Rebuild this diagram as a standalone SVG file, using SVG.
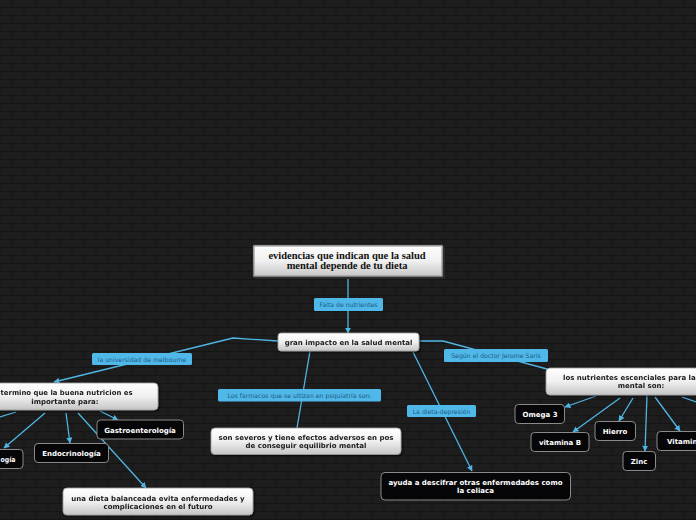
<svg xmlns="http://www.w3.org/2000/svg" width="696" height="520" viewBox="0 0 696 520">
<defs>
<pattern id="brick" width="24" height="16" patternUnits="userSpaceOnUse">
<rect width="24" height="16" fill="#1d1d1d"/>
<path d="M0 7.5H24M0 15.5H24M12 0V7.5M0 8V16M24 8V16" stroke="#151515" stroke-width="1"/>
</pattern>
<linearGradient id="wg" x1="0" y1="0" x2="0" y2="1">
<stop offset="0" stop-color="#ffffff"/>
<stop offset="0.5" stop-color="#f0f0f0"/>
<stop offset="1" stop-color="#c4c4c4"/>
</linearGradient>
<marker id="arr" viewBox="0 0 10 10" refX="9" refY="5" markerWidth="6" markerHeight="6" orient="auto" markerUnits="userSpaceOnUse">
<path d="M0 0L10 5L0 10z" fill="#4fb5e3"/>
</marker>
<filter id="sh" x="-10%" y="-20%" width="130%" height="160%">
<feDropShadow dx="1" dy="1" stdDeviation="1" flood-color="#000" flood-opacity="0.8"/>
</filter>
</defs>
<style>
.c{fill:none;stroke:#4fb5e3;stroke-width:1.3}
.lb{fill:#4fb8e8}
.lt{font-family:"DejaVu Sans",sans-serif;font-size:6.2px;fill:#1f5a86}
.wn{fill:url(#wg);stroke:#9a9a9a;stroke-width:0.8}
.bn{fill:#060609;stroke:#8a8a8a;stroke-width:1}
.t{font-family:"DejaVu Sans",sans-serif;font-size:7px;font-weight:bold;text-anchor:middle}
.tk{fill:#1a1a1a}
.tw{fill:#ffffff}
.rt{font-family:"Liberation Serif",serif;font-size:10.5px;font-weight:bold;text-anchor:middle;fill:#111}
</style>
<rect width="696" height="520" fill="url(#brick)"/>

<g id="connectors">
<path class="c" d="M348 277V333" marker-end="url(#arr)"/>
<path class="c" d="M278 341L233 338L54 382" marker-end="url(#arr)"/>
<path class="c" d="M310 351L297 428"/>
<path class="c" d="M413 352L472 471" marker-end="url(#arr)"/>
<path class="c" d="M419 341L443 341L547 369"/>
<path class="c" d="M100 411L118 420" marker-end="url(#arr)"/>
<path class="c" d="M66 413L70 443" marker-end="url(#arr)"/>
<path class="c" d="M45 413L4 448" marker-end="url(#arr)"/>
<path class="c" d="M16 412L0 417"/>
<path class="c" d="M78 413L146 488" marker-end="url(#arr)"/>
<path class="c" d="M596 396L565 407" marker-end="url(#arr)"/>
<path class="c" d="M620 398L573 432" marker-end="url(#arr)"/>
<path class="c" d="M633 398L619 421" marker-end="url(#arr)"/>
<path class="c" d="M647 395L645 451" marker-end="url(#arr)"/>
<path class="c" d="M655 397L680 431" marker-end="url(#arr)"/>
<path class="c" d="M682 397L696 402"/>
<g id="labels">
<rect class="lb" x="314" y="298" width="69" height="13" rx="1.5"/>
<text class="lt" x="348.5" y="307" text-anchor="middle">Falta de nutrientes</text>
<rect class="lb" x="92" y="353" width="100" height="12" rx="1.5"/>
<text class="lt" x="142" y="361.5" text-anchor="middle">la universidad de melbourne</text>
<rect class="lb" x="218" y="389" width="163" height="12.5" rx="1.5"/>
<text class="lt" x="299.5" y="397.8" text-anchor="middle">Los farmacos que se ultizan en psquiatria son:</text>
<rect class="lb" x="407" y="405" width="69" height="12" rx="1.5"/>
<text class="lt" x="441.5" y="413.5" text-anchor="middle">La dieta-depresión</text>
<rect class="lb" x="444" y="349" width="104" height="13" rx="1.5"/>
<text class="lt" x="496" y="358" text-anchor="middle">Según el doctor Jerome Saris</text>
</g>
</g>

<g id="root">
<rect x="255" y="247" width="190" height="32" fill="#2a2a2a"/>
<rect x="253" y="245" width="190" height="32" fill="url(#wg)" stroke="#333" stroke-width="1"/>
<rect x="254.5" y="246.5" width="187" height="29" fill="none" stroke="#9a9a9a" stroke-width="0.6"/>
<text class="rt" x="347" y="259">evidencias que indican que la salud</text>
<text class="rt" x="347" y="268.5">mental depende de tu dieta</text>
</g>

<g id="gran-impacto" filter="url(#sh)">
<rect class="wn" x="278" y="333" width="141" height="18" rx="3"/>
<text class="t tk" x="348.5" y="345">gran impacto en la salud mental</text>
</g>

<g id="termino" filter="url(#sh)">
<rect class="wn" x="-30" y="383" width="188" height="27" rx="4"/>
<text class="t tk" x="0.5" y="395" style="text-anchor:start" textLength="132" lengthAdjust="spacingAndGlyphs">termino que la buena nutricion es</text>
<text class="t tk" x="65" y="403.5">importante para:</text>
</g>

<g id="gastro">
<rect class="bn" x="97" y="420" width="86.5" height="19" rx="3.5"/>
<text class="t tw" x="140" y="432.5">Gastroenterología</text>
</g>

<g id="endo">
<rect class="bn" x="34.5" y="443.5" width="74" height="19" rx="3.5"/>
<text class="t tw" x="71.5" y="456">Endocrinología</text>
</g>

<g id="ogia">
<rect class="bn" x="-30" y="449.5" width="53" height="19" rx="3.5"/>
<text class="t tw" x="0.5" y="461.5" style="text-anchor:start" textLength="15" lengthAdjust="spacingAndGlyphs">ogía</text>
</g>

<g id="dieta-balanceada" filter="url(#sh)">
<rect class="wn" x="63" y="488" width="190" height="27" rx="4"/>
<text class="t tk" x="158" y="500.5">una dieta balanceada evita enfermedades y</text>
<text class="t tk" x="158" y="508.5">complicaciones en el futuro</text>
</g>

<g id="son-severos" filter="url(#sh)">
<rect class="wn" x="211" y="428" width="190" height="26.5" rx="4"/>
<text class="t tk" x="306" y="440">son severos y tiene efectos adversos en pos</text>
<text class="t tk" x="306" y="448">de conseguir equilibrio mental</text>
</g>

<g id="ayuda">
<rect class="bn" x="381" y="472.5" width="189.5" height="27.5" rx="4"/>
<text class="t tw" x="475.5" y="485">ayuda a descifrar otras enfermedades como</text>
<text class="t tw" x="475.5" y="493">la celiaca</text>
</g>

<g id="nutrientes" filter="url(#sh)">
<rect class="wn" x="546" y="368" width="180" height="27" rx="4"/>
<text class="t tk" x="563" y="379.5" style="text-anchor:start">los nutrientes escenciales para la</text>
<text class="t tk" x="641" y="388">mental son:</text>
</g>

<g id="omega3">
<rect class="bn" x="515" y="404.5" width="49.5" height="19" rx="3.5"/>
<text class="t tw" x="540" y="417">Omega 3</text>
</g>

<g id="vitaminaB">
<rect class="bn" x="531" y="432.5" width="58" height="19" rx="3.5"/>
<text class="t tw" x="560" y="444.5">vitamina B</text>
</g>

<g id="hierro">
<rect class="bn" x="595" y="421.5" width="40.5" height="19" rx="3.5"/>
<text class="t tw" x="615" y="433.5">Hierro</text>
</g>

<g id="zinc">
<rect class="bn" x="623" y="451.5" width="32.5" height="19" rx="3.5"/>
<text class="t tw" x="639" y="464">Zinc</text>
</g>

<g id="vitamin">
<rect class="bn" x="657" y="431.5" width="60" height="19" rx="3.5"/>
<text class="t tw" x="667" y="443.5" style="text-anchor:start">Vitamin</text>
</g>
</svg>
